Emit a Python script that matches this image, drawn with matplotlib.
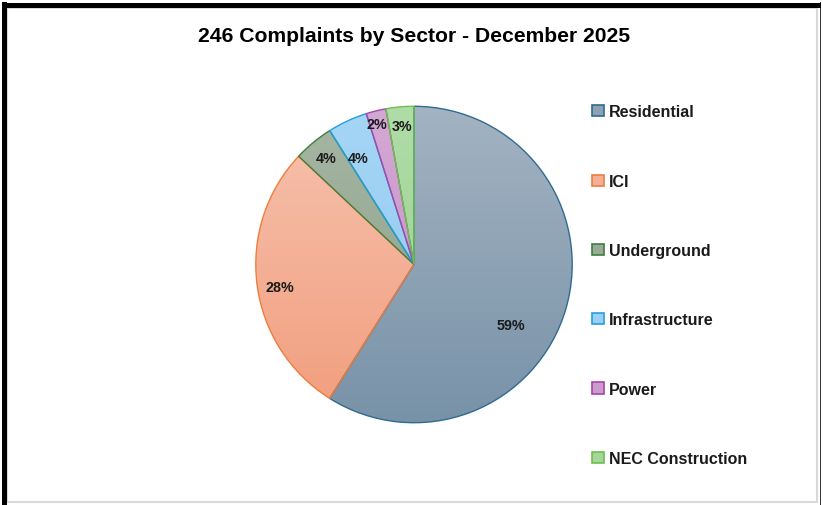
import numpy as np
import matplotlib
matplotlib.use("Agg")
import matplotlib.pyplot as plt
from matplotlib.colors import LinearSegmentedColormap
from matplotlib.patches import Rectangle

# ---- data ----
title = "246 Complaints by Sector - December 2025"
sectors = ["Residential", "ICI", "Underground", "Infrastructure", "Power", "NEC Construction"]
counts = [145, 69, 10, 10, 5, 7]

# ---- style ----
top_colors = ["#a3b3c2", "#f6c3b0", "#a6b6a4", "#a6d6f6", "#d4a8d4", "#b0dca8"]
bot_colors = ["#7892a8", "#f29d7c", "#88a086", "#8cc6ee", "#c48cc4", "#96cf8a"]
mid_colors = ["#8ea2b5", "#f4b096", "#98ab96", "#9acff3", "#cc9acc", "#a3d698"]
edge_colors = ["#2f6b90", "#ee7d3c", "#3f7f3f", "#22a0de", "#a845a8", "#6cbf4e"]
label_r = [0.72, 0.86, 0.87, 0.76, 0.92, 0.88]
label_dang = [-16, 2, 0, 3, 1, 0]
FONT = ["Liberation Sans", "DejaVu Sans"]

W, H = 823, 506
fig = plt.figure(figsize=(W / 100, H / 100), dpi=100)

# frame
fig.patches.append(Rectangle((7 / W, 3.0 / H), 810 / W, 494.5 / H, transform=fig.transFigure,
                             fill=False, edgecolor="#d9d9d9", linewidth=1.5))
fig.patches.append(Rectangle((819.5 / W, 0), 1.5 / W, 503 / H, transform=fig.transFigure,
                             facecolor="#333333", edgecolor="none"))
fig.patches.append(Rectangle((2 / W, 0), 4.5 / W, 503 / H, transform=fig.transFigure,
                             facecolor="black", edgecolor="none"))
fig.patches.append(Rectangle((2 / W, 497.5 / H), 819 / W, 5 / H, transform=fig.transFigure,
                             facecolor="black", edgecolor="none"))

cx, cy, R = 414, 265.5, 159
ax = fig.add_axes([(cx - R) / W, (H - cy - R) / H, 2 * R / W, 2 * R / H])
ax.axis("off")

wedges, _ = ax.pie(counts, startangle=90, counterclock=False, radius=1,
                   colors=mid_colors,
                   wedgeprops=dict(linewidth=1.0))

total = sum(counts)
grad = np.linspace(0, 1, 256).reshape(-1, 1)
for i, w in enumerate(wedges):
    w.set_edgecolor(edge_colors[i])
    cmap = LinearSegmentedColormap.from_list("g%d" % i, [top_colors[i], bot_colors[i]])
    im = ax.imshow(grad, cmap=cmap, extent=[-1, 1, -1, 1], origin="upper",
                   aspect="auto", zorder=2)
    im.set_clip_path(w)
    w.set_facecolor("none")
    w.set_zorder(3)
    ang = np.deg2rad((w.theta1 + w.theta2) / 2 + label_dang[i])
    pct = round(100 * counts[i] / total)
    ax.text(label_r[i] * np.cos(ang), label_r[i] * np.sin(ang), f"{pct}%",
            ha="center", va="center", fontsize=10.3, fontweight="bold",
            family=FONT, color="#1a1a1a", zorder=5)
ax.set_xlim(-1.005, 1.005)
ax.set_ylim(-1.005, 1.005)
ax.set_aspect("equal")

fig.text(414 / W, 1 - 37 / H, title, ha="center", va="center", fontsize=15.2,
         fontweight="bold", family=FONT, color="black")

handles = [Rectangle((0, 0), 1, 1, facecolor=mid_colors[i], edgecolor=edge_colors[i], linewidth=1.2)
           for i in range(len(sectors))]
leg = fig.legend(handles, sectors, loc="upper left", bbox_to_anchor=(586 / W, 1 - 99 / H),
                 frameon=False, handlelength=0.7, handleheight=0.7, handletextpad=0.35,
                 labelspacing=3.40, borderaxespad=0,
                 prop=dict(size=11.5, weight="bold", family=FONT))
for t in leg.get_texts():
    t.set_color("#1a1a1a")

fig.savefig("out.png", dpi=100, facecolor="white")
